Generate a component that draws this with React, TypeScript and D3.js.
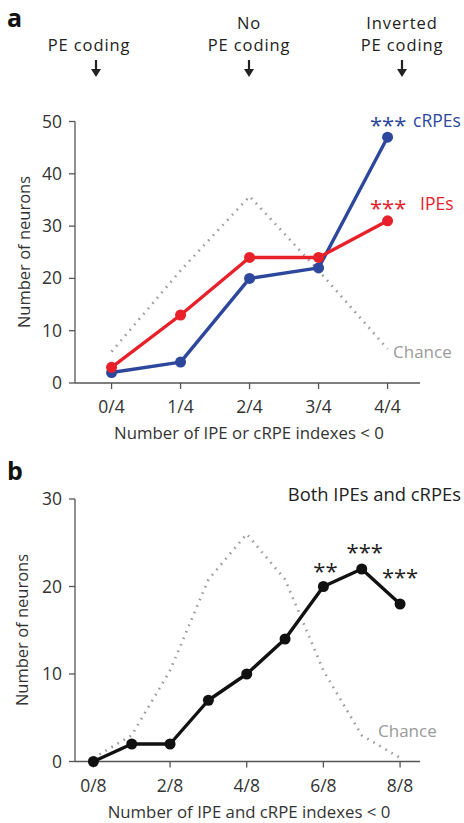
import * as d3 from 'd3';

// panel a
const catsA = ['0/4', '1/4', '2/4', '3/4', '4/4'];
const crpeA = [2, 4, 20, 22, 47];
const ipeA = [3, 13, 24, 24, 31];
const chanceA = [6, 21.5, 35.7, 21.5, 6.5];
const yTicksA = [0, 10, 20, 30, 40, 50];

// panel b
const catsB = ['0/8', '1/8', '2/8', '3/8', '4/8', '5/8', '6/8', '7/8', '8/8'];
const tickLabelsB = ['0/8', '2/8', '4/8', '6/8', '8/8'];
const bothB = [0, 2, 2, 7, 10, 14, 20, 22, 18];
const chanceB = [0.4, 3, 10.4, 20.8, 26, 20.8, 10.4, 3, 0.4];
const starsB = ['', '', '', '', '', '', '**', '***', '***'];
const yTicksB = [0, 10, 20, 30];

const FONT = '"Open Sans", "Noto Sans", sans-serif';
const AXIS = '#555';
const BLUE = '#2d479c';
const RED = '#e8202a';
const GRAY = '#9a9a9a';

type PanelProps = {
  cats: string[];
  tickLabels: string[];
  xDomain: [number, number];
  yMax: number;
  yTicks: number[];
  top: number;
  bottom: number;
  series: { values: number[]; color: string }[];
  chance: number[];
  xLabel: string;
  r: number;
};

function Panel({ cats, tickLabels, xDomain, yMax, yTicks, top, bottom, series, chance, xLabel, r }: PanelProps) {
  const x = d3.scaleLinear().domain(xDomain).range([75, 420]);
  const y = d3.scaleLinear().domain([0, yMax]).range([bottom, top]);
  const line = d3
    .line<number>()
    .x((_, i) => x(i))
    .y((d) => y(d));
  return (
    <g>
      <path d={line(chance) ?? ''} fill="none" stroke={GRAY} strokeWidth={2.6} strokeDasharray="1.6 5.4" />
      <line x1={75} x2={75} y1={top} y2={bottom} stroke={AXIS} strokeWidth={1.3} />
      <line x1={75} x2={420} y1={bottom} y2={bottom} stroke={AXIS} strokeWidth={1.3} />
      {yTicks.map((t) => (
        <g key={t}>
          <line x1={69} x2={75} y1={y(t)} y2={y(t)} stroke={AXIS} strokeWidth={1.3} />
          <text x={62} y={y(t) + 6} textAnchor="end" fontSize={17.5} fill="#333">
            {t}
          </text>
        </g>
      ))}
      {cats.map((c, i) =>
        tickLabels.includes(c) ? (
          <g key={c}>
            <line x1={x(i)} x2={x(i)} y1={bottom} y2={bottom + 6} stroke={AXIS} strokeWidth={1.3} />
            <text x={x(i)} y={bottom + 30} textAnchor="middle" fontSize={17.5} fill="#333">
              {c}
            </text>
          </g>
        ) : null,
      )}
      <text x={249} y={bottom + 56} textAnchor="middle" fontSize={16.8} fill="#333">
        {xLabel}
      </text>
      {series.map((s, k) => (
        <g key={k}>
          <path d={line(s.values) ?? ''} fill="none" stroke={s.color} strokeWidth={3.4} strokeLinejoin="round" />
          {s.values.map((v, i) => (
            <circle key={i} cx={x(i)} cy={y(v)} r={r} fill={s.color} />
          ))}
        </g>
      ))}
    </g>
  );
}

function Arrow({ cx, y0, y1 }: { cx: number; y0: number; y1: number }) {
  return (
    <g>
      <line x1={cx} x2={cx} y1={y0} y2={y1 - 5} stroke="#222" strokeWidth={2.2} />
      <path d={`M${cx - 5},${y1 - 8} L${cx + 5},${y1 - 8} L${cx},${y1} Z`} fill="#222" />
    </g>
  );
}

export default function App() {
  const xB = d3.scaleLinear().domain([-0.48, 8.52]).range([75, 420]);
  const yB = d3.scaleLinear().domain([0, 30]).range([761.5, 499]);
  const starOffset: Record<number, [number, number]> = { 6: [2, -7.5], 7: [3, -9], 8: [0, -19] };
  return (
    <svg
      width={464}
      height={823}
      style={{ position: 'absolute', left: 0, top: 0, background: '#fff', fontFamily: FONT }}
    >
      <text x={7} y={27} fontSize={25} fontWeight={700} fill="#111">
        a
      </text>
      <text x={7} y={480} fontSize={25} fontWeight={700} fill="#111">
        b
      </text>

      {/* top annotations */}
      <g fontSize={16.5} letterSpacing={0.9} fill="#222" textAnchor="middle">
        <text x={89} y={51}>PE coding</text>
        <text x={249} y={28.5}>No</text>
        <text x={249} y={51}>PE coding</text>
        <text x={402} y={28.5}>Inverted</text>
        <text x={402} y={51}>PE coding</text>
      </g>
      <Arrow cx={96} y0={60} y1={77} />
      <Arrow cx={249} y0={60} y1={77} />
      <Arrow cx={402} y0={60} y1={77} />

      <Panel
        cats={catsA}
        tickLabels={catsA}
        xDomain={[-0.53, 4.47]}
        yMax={50}
        yTicks={yTicksA}
        top={121.5}
        bottom={383}
        series={[
          { values: crpeA, color: BLUE },
          { values: ipeA, color: RED },
        ]}
        chance={chanceA}
        xLabel="Number of IPE or cRPE indexes < 0"
        r={5.5}
      />
      <text x={23} y={252} transform="rotate(-90 23 252)" textAnchor="middle" dominantBaseline="central" fontSize={16.5} fill="#333">
        Number of neurons
      </text>
      <text x={370} y={133} fontSize={22} fill={BLUE}>***</text>
      <text x={413} y={127} fontSize={17.5} fill={BLUE}>cRPEs</text>
      <text x={370} y={216} fontSize={22} fill={RED}>***</text>
      <text x={420} y={210} fontSize={17.5} fill={RED}>IPEs</text>
      <text x={393} y={358} fontSize={17} fill={GRAY}>
        Chance
      </text>

      <Panel
        cats={catsB}
        tickLabels={tickLabelsB}
        xDomain={[-0.48, 8.52]}
        yMax={30}
        yTicks={yTicksB}
        top={499}
        bottom={761.5}
        series={[{ values: bothB, color: '#111' }]}
        chance={chanceB}
        xLabel="Number of IPE and cRPE indexes < 0"
        r={5.5}
      />
      <text x={21} y={630} transform="rotate(-90 21 630)" textAnchor="middle" dominantBaseline="central" fontSize={16.5} fill="#333">
        Number of neurons
      </text>
      <text x={461} y={501} textAnchor="end" fontSize={18.4} fill="#222">
        Both IPEs and cRPEs
      </text>
      {bothB.map((v, i) =>
        starsB[i] ? (
          <text
            key={i}
            x={xB(i) + starOffset[i][0]}
            y={yB(v) + starOffset[i][1]}
            textAnchor="middle"
            fontSize={22}
            fill="#222"
          >
            {starsB[i]}
          </text>
        ) : null,
      )}
      <text x={378} y={737} fontSize={17} fill={GRAY}>
        Chance
      </text>
    </svg>
  );
}
